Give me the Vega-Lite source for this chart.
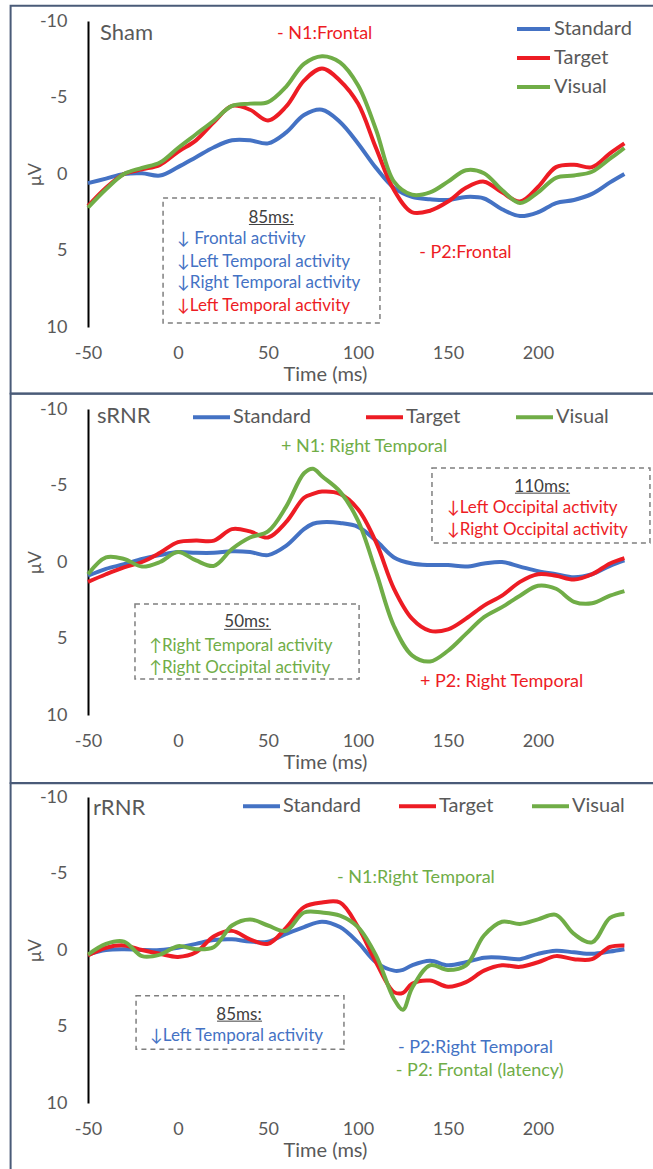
{
  "$schema": "https://vega.github.io/schema/vega-lite/v6.json",
  "padding": {"left": 9, "top": 4, "right": 0, "bottom": 0},
  "spacing": 82,
  "bounds": "flush",
  "config": {
    "font": "Lato",
    "view": {"stroke": null},
    "axis": {"labelFont": "Lato", "labelFontSize": 18, "labelColor": "#595959", "titleFont": "Lato", "titleFontSize": 20, "titleFontWeight": "normal", "titleColor": "#595959", "grid": false, "ticks": false, "labelExpr": "'' + datum.value"},
    "axisX": {"domain": false, "labelPadding": 17, "labelFlush": false, "titleX": 237, "titleY": 37, "titleBaseline": "top"},
    "axisY": {"domain": true, "domainColor": "#000000", "domainWidth": 2, "labelPadding": 21, "titleX": -48, "titleY": 153, "titleAngle": -90, "titleBaseline": "alphabetic", "titleFontSize": 18},
    "text": {"font": "Lato"}
  },
  "datasets": {
    "erp": [
      {"p":"Sham","t":-50,"Standard":0.6,"Target":2.1,"Visual":2.2},
      {"p":"Sham","t":-40,"Standard":0.3,"Target":0.9,"Visual":1.0},
      {"p":"Sham","t":-30,"Standard":0.0,"Target":0.0,"Visual":0.0},
      {"p":"Sham","t":-20,"Standard":-0.05,"Target":-0.3,"Visual":-0.4},
      {"p":"Sham","t":-10,"Standard":0.1,"Target":-0.6,"Visual":-0.75},
      {"p":"Sham","t":0,"Standard":-0.45,"Target":-1.45,"Visual":-1.7},
      {"p":"Sham","t":10,"Standard":-1.1,"Target":-2.2,"Visual":-2.6},
      {"p":"Sham","t":20,"Standard":-1.75,"Target":-3.4,"Visual":-3.5},
      {"p":"Sham","t":30,"Standard":-2.2,"Target":-4.45,"Visual":-4.45},
      {"p":"Sham","t":40,"Standard":-2.2,"Target":-4.2,"Visual":-4.6},
      {"p":"Sham","t":50,"Standard":-2.0,"Target":-3.5,"Visual":-4.7},
      {"p":"Sham","t":60,"Standard":-2.7,"Target":-4.4,"Visual":-5.7},
      {"p":"Sham","t":70,"Standard":-3.85,"Target":-6.1,"Visual":-7.2},
      {"p":"Sham","t":80,"Standard":-4.2,"Target":-6.9,"Visual":-7.7},
      {"p":"Sham","t":90,"Standard":-3.4,"Target":-6.1,"Visual":-7.3},
      {"p":"Sham","t":100,"Standard":-2.0,"Target":-4.6,"Visual":-5.8},
      {"p":"Sham","t":110,"Standard":-0.4,"Target":-1.7,"Visual":-2.9},
      {"p":"Sham","t":120,"Standard":0.9,"Target":1.05,"Visual":0.5},
      {"p":"Sham","t":130,"Standard":1.5,"Target":2.5,"Visual":1.35},
      {"p":"Sham","t":140,"Standard":1.65,"Target":2.4,"Visual":1.2},
      {"p":"Sham","t":150,"Standard":1.7,"Target":1.8,"Visual":0.5},
      {"p":"Sham","t":160,"Standard":1.5,"Target":0.9,"Visual":-0.25},
      {"p":"Sham","t":170,"Standard":1.6,"Target":0.5,"Visual":-0.05},
      {"p":"Sham","t":180,"Standard":2.3,"Target":1.2,"Visual":1.05},
      {"p":"Sham","t":190,"Standard":2.75,"Target":1.8,"Visual":1.9},
      {"p":"Sham","t":200,"Standard":2.5,"Target":0.85,"Visual":1.2},
      {"p":"Sham","t":210,"Standard":1.9,"Target":-0.45,"Visual":0.25},
      {"p":"Sham","t":220,"Standard":1.7,"Target":-0.6,"Visual":0.1},
      {"p":"Sham","t":230,"Standard":1.3,"Target":-0.45,"Visual":-0.15},
      {"p":"Sham","t":240,"Standard":0.55,"Target":-1.35,"Visual":-1.0},
      {"p":"Sham","t":248,"Standard":0.0,"Target":-2.0,"Visual":-1.7},
      {"p":"sRNR","t":-50,"Standard":0.9,"Target":1.3,"Visual":0.8},
      {"p":"sRNR","t":-40,"Standard":0.45,"Target":0.8,"Visual":-0.3},
      {"p":"sRNR","t":-30,"Standard":0.15,"Target":0.35,"Visual":-0.2},
      {"p":"sRNR","t":-20,"Standard":-0.2,"Target":0.0,"Visual":0.3},
      {"p":"sRNR","t":-10,"Standard":-0.45,"Target":-0.6,"Visual":0.0},
      {"p":"sRNR","t":0,"Standard":-0.65,"Target":-1.3,"Visual":-0.65},
      {"p":"sRNR","t":10,"Standard":-0.6,"Target":-1.4,"Visual":-0.1},
      {"p":"sRNR","t":20,"Standard":-0.6,"Target":-1.4,"Visual":0.25},
      {"p":"sRNR","t":30,"Standard":-0.7,"Target":-2.15,"Visual":-0.85},
      {"p":"sRNR","t":40,"Standard":-0.65,"Target":-2.0,"Visual":-1.6},
      {"p":"sRNR","t":50,"Standard":-0.45,"Target":-1.6,"Visual":-2.0},
      {"p":"sRNR","t":60,"Standard":-1.05,"Target":-2.6,"Visual":-3.6},
      {"p":"sRNR","t":70,"Standard":-2.15,"Target":-4.2,"Visual":-5.8},
      {"p":"sRNR","t":75,"Standard":-2.5,"Target":-4.45,"Visual":-6.1},
      {"p":"sRNR","t":80,"Standard":-2.6,"Target":-4.6,"Visual":-5.6},
      {"p":"sRNR","t":90,"Standard":-2.55,"Target":-4.45,"Visual":-4.6},
      {"p":"sRNR","t":100,"Standard":-2.3,"Target":-3.45,"Visual":-2.7},
      {"p":"sRNR","t":110,"Standard":-1.4,"Target":-1.3,"Visual":0.65},
      {"p":"sRNR","t":120,"Standard":-0.3,"Target":1.75,"Visual":4.2},
      {"p":"sRNR","t":130,"Standard":0.1,"Target":3.7,"Visual":6.1},
      {"p":"sRNR","t":140,"Standard":0.2,"Target":4.5,"Visual":6.5},
      {"p":"sRNR","t":150,"Standard":0.2,"Target":4.4,"Visual":5.8},
      {"p":"sRNR","t":160,"Standard":0.3,"Target":3.7,"Visual":4.7},
      {"p":"sRNR","t":170,"Standard":0.1,"Target":2.85,"Visual":3.6},
      {"p":"sRNR","t":180,"Standard":0.0,"Target":2.2,"Visual":2.95},
      {"p":"sRNR","t":190,"Standard":0.3,"Target":1.3,"Visual":2.2},
      {"p":"sRNR","t":200,"Standard":0.6,"Target":0.8,"Visual":1.55},
      {"p":"sRNR","t":210,"Standard":0.8,"Target":0.9,"Visual":1.75},
      {"p":"sRNR","t":220,"Standard":1.0,"Target":1.15,"Visual":2.6},
      {"p":"sRNR","t":230,"Standard":0.8,"Target":0.8,"Visual":2.7},
      {"p":"sRNR","t":240,"Standard":0.25,"Target":0.1,"Visual":2.2},
      {"p":"sRNR","t":248,"Standard":-0.1,"Target":-0.25,"Visual":1.9},
      {"p":"rRNR","t":-50,"Standard":0.3,"Target":0.35,"Visual":0.3},
      {"p":"rRNR","t":-40,"Standard":0.0,"Target":-0.15,"Visual":-0.4},
      {"p":"rRNR","t":-30,"Standard":-0.05,"Target":-0.3,"Visual":-0.55},
      {"p":"rRNR","t":-20,"Standard":0.0,"Target":0.0,"Visual":0.4},
      {"p":"rRNR","t":-10,"Standard":0.0,"Target":0.25,"Visual":0.3},
      {"p":"rRNR","t":0,"Standard":-0.15,"Target":0.45,"Visual":-0.25},
      {"p":"rRNR","t":10,"Standard":-0.4,"Target":0.15,"Visual":-0.05},
      {"p":"rRNR","t":20,"Standard":-0.65,"Target":-0.9,"Visual":-0.2},
      {"p":"rRNR","t":30,"Standard":-0.7,"Target":-1.25,"Visual":-1.6},
      {"p":"rRNR","t":40,"Standard":-0.55,"Target":-0.7,"Visual":-2.0},
      {"p":"rRNR","t":50,"Standard":-0.55,"Target":-0.4,"Visual":-1.6},
      {"p":"rRNR","t":60,"Standard":-1.05,"Target":-1.45,"Visual":-1.25},
      {"p":"rRNR","t":70,"Standard":-1.5,"Target":-2.8,"Visual":-2.45},
      {"p":"rRNR","t":80,"Standard":-1.85,"Target":-3.1,"Visual":-2.45},
      {"p":"rRNR","t":90,"Standard":-1.5,"Target":-3.1,"Visual":-2.25},
      {"p":"rRNR","t":100,"Standard":-0.5,"Target":-1.5,"Visual":-1.5},
      {"p":"rRNR","t":110,"Standard":0.8,"Target":0.8,"Visual":0.35},
      {"p":"rRNR","t":120,"Standard":1.35,"Target":2.75,"Visual":3.2},
      {"p":"rRNR","t":125,"Standard":1.3,"Target":2.8,"Visual":3.9},
      {"p":"rRNR","t":130,"Standard":1.0,"Target":2.2,"Visual":2.5},
      {"p":"rRNR","t":140,"Standard":0.7,"Target":2.0,"Visual":1.0},
      {"p":"rRNR","t":150,"Standard":1.0,"Target":2.4,"Visual":1.3},
      {"p":"rRNR","t":160,"Standard":0.8,"Target":2.1,"Visual":1.0},
      {"p":"rRNR","t":170,"Standard":0.5,"Target":1.35,"Visual":-0.95},
      {"p":"rRNR","t":180,"Standard":0.5,"Target":1.0,"Visual":-1.85},
      {"p":"rRNR","t":190,"Standard":0.6,"Target":1.1,"Visual":-1.7},
      {"p":"rRNR","t":200,"Standard":0.25,"Target":0.8,"Visual":-2.0},
      {"p":"rRNR","t":210,"Standard":0.05,"Target":0.4,"Visual":-2.3},
      {"p":"rRNR","t":220,"Standard":0.15,"Target":0.6,"Visual":-1.05},
      {"p":"rRNR","t":230,"Standard":0.25,"Target":0.6,"Visual":-0.5},
      {"p":"rRNR","t":240,"Standard":0.1,"Target":-0.2,"Visual":-2.1},
      {"p":"rRNR","t":248,"Standard":-0.05,"Target":-0.3,"Visual":-2.35}
    ],
    "frames": [
      {"p":"Sham","t":-93,"t2":265,"v":-11.0,"v2":14.35},
      {"p":"sRNR","t":-93,"t2":265,"v":-11.0,"v2":14.45},
      {"p":"rRNR","t":-93,"t2":265,"v":-10.9,"v2":14.8}
    ],
    "boxes": [
      {"p":"Sham","t":-8.3,"t2":112.2,"v":1.57,"v2":9.74},
      {"p":"sRNR","t":141.1,"t2":262.2,"v":-6.14,"v2":-1.24},
      {"p":"sRNR","t":-23.9,"t2":100.6,"v":2.75,"v2":7.65},
      {"p":"rRNR","t":-23.3,"t2":92.2,"v":2.99,"v2":6.49}
    ],
    "heads": [
      {"p":"Sham","t":51.7,"v":2.88,"label":"85ms:"},
      {"p":"sRNR","t":202.2,"v":-4.9,"label":"110ms:"},
      {"p":"sRNR","t":38.3,"v":3.92,"label":"50ms:"},
      {"p":"rRNR","t":33.9,"v":4.27,"label":"85ms:"}
    ],
    "underlines": [
      {"p":"Sham","t":39.4,"t2":64.4,"v":3.3},
      {"p":"sRNR","t":187.2,"t2":217.8,"v":-4.5},
      {"p":"sRNR","t":25.6,"t2":51.7,"v":4.4},
      {"p":"rRNR","t":21.7,"t2":46.7,"v":4.65}
    ],
    "notes": [
      {"p":"Sham","t":55,"v":-9.15,"label":"- N1:Frontal","group":"Target","inbox":false},
      {"p":"Sham","t":134,"v":5.16,"label":"- P2:Frontal","group":"Target","inbox":false},
      {"p":"Sham","t":-0.5,"v":4.25,"label":"↓ Frontal activity","group":"Standard","inbox":true},
      {"p":"Sham","t":-0.5,"v":5.75,"label":"↓Left Temporal activity","group":"Standard","inbox":true},
      {"p":"Sham","t":-0.5,"v":7.12,"label":"↓Right Temporal activity","group":"Standard","inbox":true},
      {"p":"Sham","t":-0.5,"v":8.63,"label":"↓Left Temporal activity","group":"Target","inbox":true},
      {"p":"sRNR","t":57.2,"v":-7.5,"label":"+ N1: Right Temporal","group":"Visual","inbox":false},
      {"p":"sRNR","t":134.4,"v":7.84,"label":"+ P2: Right Temporal","group":"Target","inbox":false},
      {"p":"sRNR","t":149.4,"v":-3.53,"label":"↓Left Occipital activity","group":"Target","inbox":true},
      {"p":"sRNR","t":149.4,"v":-2.09,"label":"↓Right Occipital activity","group":"Target","inbox":true},
      {"p":"sRNR","t":-16,"v":5.49,"label":"↑Right Temporal activity","group":"Visual","inbox":true},
      {"p":"sRNR","t":-16,"v":6.93,"label":"↑Right Occipital activity","group":"Visual","inbox":true},
      {"p":"rRNR","t":88.3,"v":-4.68,"label":"- N1:Right Temporal","group":"Visual","inbox":false},
      {"p":"rRNR","t":122.2,"v":6.43,"label":"- P2:Right Temporal","group":"Standard","inbox":false},
      {"p":"rRNR","t":121,"v":7.9,"label":"- P2: Frontal (latency)","group":"Visual","inbox":false},
      {"p":"rRNR","t":-15.5,"v":5.6,"label":"↓Left Temporal activity","group":"Standard","inbox":true}
    ],
    "names": [
      {"p":"Sham","t":-43.3,"v":-9.2,"label":"Sham"},
      {"p":"sRNR","t":-45,"v":-9.54,"label":"sRNR"},
      {"p":"rRNR","t":-47.2,"v":-9.29,"label":"rRNR"}
    ]
  },
  "resolve": {"scale": {"color": "independent"}, "legend": {"color": "independent"}},
  "vconcat": [
    {
      "width": 540, "height": 306,
      "layer": [
        {
          "data": {"name": "frames"}, "transform": [{"filter": "datum.p === 'Sham'"}],
          "mark": {"type": "rect", "filled": false, "color": "#4a5b78", "strokeWidth": 2},
          "encoding": {"x": {"field": "t", "type": "quantitative"}, "x2": {"field": "t2"}, "y": {"field": "v", "type": "quantitative"}, "y2": {"field": "v2"}}
        },
        {"mark": {"type": "rule", "color": "#000000", "strokeWidth": 1.5}, "encoding": {"y": {"datum": 0}}},
        {
          "data": {"name": "erp"},
          "transform": [{"filter": "datum.p === 'Sham'"}, {"fold": ["Standard", "Target", "Visual"], "as": ["series", "uV"]}],
          "mark": {"type": "line", "strokeWidth": 4, "interpolate": "catmull-rom"},
          "encoding": {
            "x": {"field": "t", "type": "quantitative", "scale": {"domain": [-50, 250], "nice": false, "zero": false}, "axis": {"values": [-50, 0, 50, 100, 150, 200], "title": "Time (ms)"}},
            "y": {"field": "uV", "type": "quantitative", "scale": {"domain": [-10, 10], "reverse": true, "nice": false, "zero": false}, "axis": {"values": [-10, -5, 0, 5, 10], "title": "μV"}},
            "color": {"field": "series", "type": "nominal", "scale": {"domain": ["Standard", "Target", "Visual"], "range": ["#4472c4", "#ed1c24", "#70ad47"]},
              "legend": {"title": null, "orient": "none", "legendX": 427, "legendY": -10.5, "direction": "vertical", "symbolType": "stroke", "symbolSize": 1089, "symbolStrokeWidth": 4, "labelFont": "Lato", "labelFontSize": 20, "labelColor": "#595959", "labelOffset": 2, "rowPadding": 0}}
          }
        },
        {
          "data": {"name": "boxes"}, "transform": [{"filter": "datum.p === 'Sham'"}],
          "mark": {"type": "rect", "filled": false, "color": "#7f7f7f", "strokeDash": [5, 4], "strokeWidth": 1.5},
          "encoding": {"x": {"field": "t", "type": "quantitative"}, "x2": {"field": "t2"}, "y": {"field": "v", "type": "quantitative"}, "y2": {"field": "v2"}}
        },
        {
          "data": {"name": "underlines"}, "transform": [{"filter": "datum.p === 'Sham'"}],
          "mark": {"type": "rule", "color": "#404040", "strokeWidth": 1},
          "encoding": {"x": {"field": "t", "type": "quantitative"}, "x2": {"field": "t2"}, "y": {"field": "v", "type": "quantitative"}}
        },
        {
          "data": {"name": "heads"}, "transform": [{"filter": "datum.p === 'Sham'"}],
          "mark": {"type": "text", "align": "center", "baseline": "middle", "fontSize": 17, "color": "#404040"},
          "encoding": {"x": {"field": "t", "type": "quantitative"}, "y": {"field": "v", "type": "quantitative"}, "text": {"field": "label"}}
        },
        {
          "data": {"name": "notes"}, "transform": [{"filter": "datum.p === 'Sham' && datum.inbox"}],
          "mark": {"type": "text", "align": "left", "baseline": "middle", "fontSize": 17},
          "encoding": {"x": {"field": "t", "type": "quantitative"}, "y": {"field": "v", "type": "quantitative"}, "text": {"field": "label"},
            "color": {"condition": [{"test": "datum.group === 'Standard'", "value": "#4472c4"}, {"test": "datum.group === 'Target'", "value": "#ed1c24"}], "value": "#70ad47"}}
        },
        {
          "data": {"name": "notes"}, "transform": [{"filter": "datum.p === 'Sham' && !datum.inbox"}],
          "mark": {"type": "text", "align": "left", "baseline": "middle", "fontSize": 18},
          "encoding": {"x": {"field": "t", "type": "quantitative"}, "y": {"field": "v", "type": "quantitative"}, "text": {"field": "label"},
            "color": {"condition": [{"test": "datum.group === 'Standard'", "value": "#4472c4"}, {"test": "datum.group === 'Target'", "value": "#ed1c24"}], "value": "#70ad47"}}
        },
        {
          "data": {"name": "names"}, "transform": [{"filter": "datum.p === 'Sham'"}],
          "mark": {"type": "text", "align": "left", "baseline": "middle", "fontSize": 22, "color": "#595959"},
          "encoding": {"x": {"field": "t", "type": "quantitative"}, "y": {"field": "v", "type": "quantitative"}, "text": {"field": "label"}}
        }
      ]
    },
    {
      "width": 540, "height": 306,
      "layer": [
        {
          "data": {"name": "frames"}, "transform": [{"filter": "datum.p === 'sRNR'"}],
          "mark": {"type": "rect", "filled": false, "color": "#4a5b78", "strokeWidth": 2},
          "encoding": {"x": {"field": "t", "type": "quantitative"}, "x2": {"field": "t2"}, "y": {"field": "v", "type": "quantitative"}, "y2": {"field": "v2"}}
        },
        {"mark": {"type": "rule", "color": "#000000", "strokeWidth": 1.5}, "encoding": {"y": {"datum": 0}}},
        {
          "data": {"name": "erp"},
          "transform": [{"filter": "datum.p === 'sRNR'"}, {"fold": ["Standard", "Target", "Visual"], "as": ["series", "uV"]}],
          "mark": {"type": "line", "strokeWidth": 4, "interpolate": "catmull-rom"},
          "encoding": {
            "x": {"field": "t", "type": "quantitative", "scale": {"domain": [-50, 250], "nice": false, "zero": false}, "axis": {"values": [-50, 0, 50, 100, 150, 200], "title": "Time (ms)"}},
            "y": {"field": "uV", "type": "quantitative", "scale": {"domain": [-10, 10], "reverse": true, "nice": false, "zero": false}, "axis": {"values": [-10, -5, 0, 5, 10], "title": "μV"}},
            "color": {"field": "series", "type": "nominal", "scale": {"domain": ["Standard", "Target", "Visual"], "range": ["#4472c4", "#ed1c24", "#70ad47"]},
              "legend": {"title": null, "orient": "none", "legendX": 103, "legendY": -12.5, "direction": "horizontal", "symbolType": "stroke", "symbolSize": 1369, "symbolStrokeWidth": 4, "labelFont": "Lato", "labelFontSize": 20, "labelColor": "#595959", "labelOffset": 1, "columnPadding": 47}}
          }
        },
        {
          "data": {"name": "boxes"}, "transform": [{"filter": "datum.p === 'sRNR'"}],
          "mark": {"type": "rect", "filled": false, "color": "#7f7f7f", "strokeDash": [5, 4], "strokeWidth": 1.5},
          "encoding": {"x": {"field": "t", "type": "quantitative"}, "x2": {"field": "t2"}, "y": {"field": "v", "type": "quantitative"}, "y2": {"field": "v2"}}
        },
        {
          "data": {"name": "underlines"}, "transform": [{"filter": "datum.p === 'sRNR'"}],
          "mark": {"type": "rule", "color": "#404040", "strokeWidth": 1},
          "encoding": {"x": {"field": "t", "type": "quantitative"}, "x2": {"field": "t2"}, "y": {"field": "v", "type": "quantitative"}}
        },
        {
          "data": {"name": "heads"}, "transform": [{"filter": "datum.p === 'sRNR'"}],
          "mark": {"type": "text", "align": "center", "baseline": "middle", "fontSize": 17, "color": "#404040"},
          "encoding": {"x": {"field": "t", "type": "quantitative"}, "y": {"field": "v", "type": "quantitative"}, "text": {"field": "label"}}
        },
        {
          "data": {"name": "notes"}, "transform": [{"filter": "datum.p === 'sRNR' && datum.inbox"}],
          "mark": {"type": "text", "align": "left", "baseline": "middle", "fontSize": 17},
          "encoding": {"x": {"field": "t", "type": "quantitative"}, "y": {"field": "v", "type": "quantitative"}, "text": {"field": "label"},
            "color": {"condition": [{"test": "datum.group === 'Standard'", "value": "#4472c4"}, {"test": "datum.group === 'Target'", "value": "#ed1c24"}], "value": "#70ad47"}}
        },
        {
          "data": {"name": "notes"}, "transform": [{"filter": "datum.p === 'sRNR' && !datum.inbox"}],
          "mark": {"type": "text", "align": "left", "baseline": "middle", "fontSize": 18},
          "encoding": {"x": {"field": "t", "type": "quantitative"}, "y": {"field": "v", "type": "quantitative"}, "text": {"field": "label"},
            "color": {"condition": [{"test": "datum.group === 'Standard'", "value": "#4472c4"}, {"test": "datum.group === 'Target'", "value": "#ed1c24"}], "value": "#70ad47"}}
        },
        {
          "data": {"name": "names"}, "transform": [{"filter": "datum.p === 'sRNR'"}],
          "mark": {"type": "text", "align": "left", "baseline": "middle", "fontSize": 22, "color": "#595959"},
          "encoding": {"x": {"field": "t", "type": "quantitative"}, "y": {"field": "v", "type": "quantitative"}, "text": {"field": "label"}}
        }
      ]
    },
    {
      "width": 540, "height": 306,
      "layer": [
        {
          "data": {"name": "frames"}, "transform": [{"filter": "datum.p === 'rRNR'"}],
          "mark": {"type": "rect", "filled": false, "color": "#4a5b78", "strokeWidth": 2},
          "encoding": {"x": {"field": "t", "type": "quantitative"}, "x2": {"field": "t2"}, "y": {"field": "v", "type": "quantitative"}, "y2": {"field": "v2"}}
        },
        {"mark": {"type": "rule", "color": "#000000", "strokeWidth": 1.5}, "encoding": {"y": {"datum": 0}}},
        {
          "data": {"name": "erp"},
          "transform": [{"filter": "datum.p === 'rRNR'"}, {"fold": ["Standard", "Target", "Visual"], "as": ["series", "uV"]}],
          "mark": {"type": "line", "strokeWidth": 4, "interpolate": "catmull-rom"},
          "encoding": {
            "x": {"field": "t", "type": "quantitative", "scale": {"domain": [-50, 250], "nice": false, "zero": false}, "axis": {"values": [-50, 0, 50, 100, 150, 200], "title": "Time (ms)"}},
            "y": {"field": "uV", "type": "quantitative", "scale": {"domain": [-10, 10], "reverse": true, "nice": false, "zero": false}, "axis": {"values": [-10, -5, 0, 5, 10], "title": "μV"}},
            "color": {"field": "series", "type": "nominal", "scale": {"domain": ["Standard", "Target", "Visual"], "range": ["#4472c4", "#ed1c24", "#70ad47"]},
              "legend": {"title": null, "orient": "none", "legendX": 153, "legendY": -11.5, "direction": "horizontal", "symbolType": "stroke", "symbolSize": 1369, "symbolStrokeWidth": 4, "labelFont": "Lato", "labelFontSize": 20, "labelColor": "#595959", "labelOffset": 1, "columnPadding": 30}}
          }
        },
        {
          "data": {"name": "boxes"}, "transform": [{"filter": "datum.p === 'rRNR'"}],
          "mark": {"type": "rect", "filled": false, "color": "#7f7f7f", "strokeDash": [5, 4], "strokeWidth": 1.5},
          "encoding": {"x": {"field": "t", "type": "quantitative"}, "x2": {"field": "t2"}, "y": {"field": "v", "type": "quantitative"}, "y2": {"field": "v2"}}
        },
        {
          "data": {"name": "underlines"}, "transform": [{"filter": "datum.p === 'rRNR'"}],
          "mark": {"type": "rule", "color": "#404040", "strokeWidth": 1},
          "encoding": {"x": {"field": "t", "type": "quantitative"}, "x2": {"field": "t2"}, "y": {"field": "v", "type": "quantitative"}}
        },
        {
          "data": {"name": "heads"}, "transform": [{"filter": "datum.p === 'rRNR'"}],
          "mark": {"type": "text", "align": "center", "baseline": "middle", "fontSize": 17, "color": "#404040"},
          "encoding": {"x": {"field": "t", "type": "quantitative"}, "y": {"field": "v", "type": "quantitative"}, "text": {"field": "label"}}
        },
        {
          "data": {"name": "notes"}, "transform": [{"filter": "datum.p === 'rRNR' && datum.inbox"}],
          "mark": {"type": "text", "align": "left", "baseline": "middle", "fontSize": 17},
          "encoding": {"x": {"field": "t", "type": "quantitative"}, "y": {"field": "v", "type": "quantitative"}, "text": {"field": "label"},
            "color": {"condition": [{"test": "datum.group === 'Standard'", "value": "#4472c4"}, {"test": "datum.group === 'Target'", "value": "#ed1c24"}], "value": "#70ad47"}}
        },
        {
          "data": {"name": "notes"}, "transform": [{"filter": "datum.p === 'rRNR' && !datum.inbox"}],
          "mark": {"type": "text", "align": "left", "baseline": "middle", "fontSize": 18},
          "encoding": {"x": {"field": "t", "type": "quantitative"}, "y": {"field": "v", "type": "quantitative"}, "text": {"field": "label"},
            "color": {"condition": [{"test": "datum.group === 'Standard'", "value": "#4472c4"}, {"test": "datum.group === 'Target'", "value": "#ed1c24"}], "value": "#70ad47"}}
        },
        {
          "data": {"name": "names"}, "transform": [{"filter": "datum.p === 'rRNR'"}],
          "mark": {"type": "text", "align": "left", "baseline": "middle", "fontSize": 22, "color": "#595959"},
          "encoding": {"x": {"field": "t", "type": "quantitative"}, "y": {"field": "v", "type": "quantitative"}, "text": {"field": "label"}}
        }
      ]
    }
  ]
}
